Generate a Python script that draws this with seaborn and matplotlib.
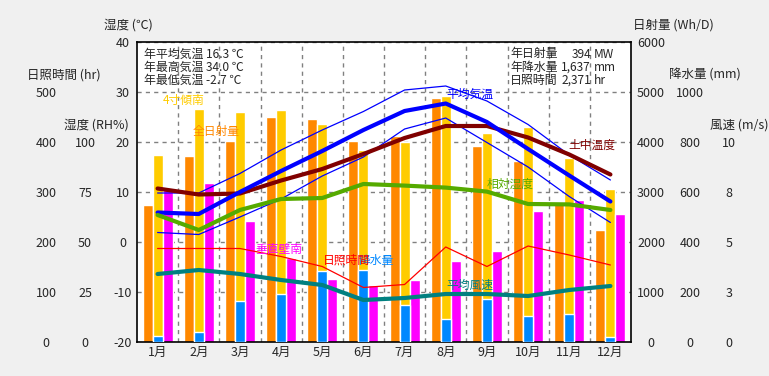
import numpy as np
import pandas as pd
import matplotlib
matplotlib.use("Agg")
import matplotlib.pyplot as plt
import seaborn as sns

sns.set_style("white")
plt.rcParams['font.family'] = ['Noto Sans CJK JP', 'DejaVu Sans']

months = [f"{i}月" for i in range(1, 13)]

# 日射量 (Wh/D)
solarAll = [2750, 3720, 4030, 4510, 4460, 4020, 4120, 4890, 3920, 3630, 2810, 2240]
solarTilt = [3740, 4660, 4610, 4640, 4360, 3850, 4010, 4930, 4190, 4310, 3690, 3060]
solarWall = [3070, 3190, 2420, 1690, 1270, 1140, 1240, 1630, 1820, 2620, 2840, 2570]
# 降水量 (mm)
precip = [25, 40, 165, 192, 285, 288, 148, 92, 172, 104, 112, 20]
# 温度 (℃)
tempAvg = [5.9, 5.6, 10.0, 14.2, 18.2, 22.4, 26.2, 27.7, 24.0, 18.6, 13.3, 8.1]
tempMax = [9.8, 9.8, 13.7, 18.4, 22.4, 26.1, 30.4, 31.2, 28.2, 23.5, 17.4, 12.4]
tempMin = [1.9, 1.5, 5.0, 8.6, 13.2, 17.0, 22.6, 24.8, 19.9, 15.0, 9.1, 3.9]
tempSoil = [10.7, 9.5, 9.7, 12.3, 14.6, 17.6, 20.8, 23.2, 23.2, 20.9, 17.5, 13.5]
# 相対湿度 (RH%)
humidity = [63.5, 56, 66, 71.5, 72, 79, 78.2, 77.2, 75.2, 69, 68.8, 66]
# 日照時間 (hr)
sunHours = [187, 187, 187, 171, 151, 109, 115, 190, 151, 192, 174, 154]
# 平均風速 (m/s)
wind = [3.4, 3.6, 3.4, 3.1, 2.85, 2.1, 2.2, 2.4, 2.4, 2.3, 2.6, 2.8]

# tick labels for each column
tempTicks = [-20, -10, 0, 10, 20, 30, 40]
rhTicks = [0, 25, 50, 75, 100]
sunTicks = [0, 100, 200, 300, 400, 500]
solarTicks = [0, 1000, 2000, 3000, 4000, 5000, 6000]
precipTicks = [0, 200, 400, 600, 800, 1000]
windTicks = [0, 2.5, 5, 7.5, 10]
windLabels = ["0", "3", "5", "8", "10"]

W, H = 769, 376
def px(x, y):
    return x / W, 1 - y / H

fig = plt.figure(figsize=(W / 100, H / 100), dpi=100, facecolor='#f0f0f0')
rect = [137 / W, (H - 342) / H, 494 / W, 300 / H]

# solar bars (bottom layer, holds grid + border)
axSol = fig.add_axes(rect)
axSol.set_facecolor('white')
axSol.set_axisbelow(True)
solar = pd.DataFrame({
    'month': months * 3,
    'series': ['全日射量'] * 12 + ['4寸傾南'] * 12 + ['垂直壁南'] * 12,
    'value': solarAll + solarTilt + solarWall,
})
palette = {'全日射量': '#ff8800', '4寸傾南': '#ffcc00', '垂直壁南': '#ff00ff'}
sns.barplot(data=solar, x='month', y='value', hue='series', palette=palette,
            hue_order=['全日射量', '4寸傾南', '垂直壁南'], width=0.73, gap=0,
            saturation=1, legend=False, ax=axSol)
axSol.set_xlim(-0.5, 11.5)
axSol.set_ylim(0, 6000)
axSol.set_xlabel('')
axSol.set_ylabel('')
axSol.set_xticks(range(12), months)
axSol.set_xticks(np.arange(0.5, 11.5, 1), minor=True)
axSol.grid(axis='y', which='major', color='#808080', linestyle=(0, (3, 3)), lw=1)
axSol.grid(axis='x', which='minor', color='#808080', linestyle=(0, (3, 3)), lw=1)
axSol.tick_params(axis='x', which='both', length=0, pad=3, labelsize=9)
for s in axSol.spines.values():
    s.set_color('black')
    s.set_linewidth(1.2)

# precipitation bars over the 4寸傾南 position
axPre = axSol.twinx()
sns.barplot(x=months, y=precip, color='#0088ff', width=0.243, saturation=1, ax=axPre)
axPre.set_ylim(0, 1200)
axPre.set_yticks(precipTicks, [str(v) for v in precipTicks])
axPre.tick_params(axis='y', length=0, pad=42.5, labelsize=9)

# temperature lines
axT = axSol.twinx()
x = np.arange(12)
sns.lineplot(x=x, y=tempMax, color='#0000ff', lw=0.9, ax=axT)
sns.lineplot(x=x, y=tempMin, color='#0000ff', lw=0.9, ax=axT)
sns.lineplot(x=x, y=tempSoil, color='#800000', lw=3, ax=axT)
sns.lineplot(x=x, y=tempAvg, color='#0000ff', lw=3, ax=axT)
axT.set_ylim(-20, 40)
axT.yaxis.tick_left()
axT.set_yticks(tempTicks, [str(v) for v in tempTicks])
axT.tick_params(axis='y', length=0, pad=10.1, labelsize=9)

axRh = axSol.twinx()
sns.lineplot(x=x, y=humidity, color='#55aa00', lw=3, ax=axRh)
axRh.set_ylim(0, 150)
axRh.yaxis.tick_left()
axRh.set_yticks(rhTicks, [str(v) for v in rhTicks])
axRh.tick_params(axis='y', length=0, pad=37.4, labelsize=9)

axSun = axSol.twinx()
sns.lineplot(x=x, y=sunHours, color='#ff0000', lw=0.9, ax=axSun)
axSun.set_ylim(0, 600)
axSun.yaxis.tick_left()
axSun.set_yticks(sunTicks, [str(v) for v in sunTicks])
axSun.tick_params(axis='y', length=0, pad=65.5, labelsize=9)

axWind = axSol.twinx()
sns.lineplot(x=x, y=wind, color='#008080', lw=3, ax=axWind)
axWind.set_ylim(0, 15)
axWind.set_yticks(windTicks, windLabels)
axWind.tick_params(axis='y', length=0, pad=70.6, labelsize=9)

# solar ticks on the right (twinx moves the parent's ticks left, so set them last)
axSol.yaxis.tick_right()
axSol.set_yticks(solarTicks, [str(v) for v in solarTicks])
axSol.tick_params(axis='y', length=0, pad=14.4, labelsize=9,
                  left=False, labelleft=False, right=False, labelright=True)

for a in [axPre, axT, axRh, axSun, axWind]:
    a.set_xlim(-0.5, 11.5)
    a.set_xlabel('')
    a.set_ylabel('')
    for s in a.spines.values():
        s.set_visible(False)
for a in [axSol, axPre, axT, axRh, axSun, axWind]:
    plt.setp(a.get_yticklabels(), ha='center')

# axis titles
titles = [
    ("湿度 (℃)", 128, 25), ("日照時間 (hr)", 64, 75), ("湿度 (RH%)", 96, 125),
    ("日射量 (Wh/D)", 673, 25), ("降水量 (mm)", 705, 75), ("風速 (m/s)", 739, 125),
]
for txt, tx, ty in titles:
    fig.text(*px(tx, ty), txt, ha='center', va='center', fontsize=9)

# summary text
for i, txt in enumerate(["年平均気温 16.3 ℃", "年最高気温 34.0 ℃", "年最低気温 -2.7 ℃"]):
    fig.text(*px(144, 54 + 13.3 * i), txt, ha='left', va='center', fontsize=8.6)
for i, (lab, num, unit) in enumerate([("年日射量", "394", "MW"),
                                      ("年降水量", "1,637", "mm"),
                                      ("日照時間", "2,371", "hr")]):
    fig.text(*px(510, 54 + 13.3 * i), lab, ha='left', va='center', fontsize=8.6)
    fig.text(*px(591, 54 + 13.3 * i), num, ha='right', va='center', fontsize=8.6)
    fig.text(*px(594, 54 + 13.3 * i), unit, ha='left', va='center', fontsize=8.6)

# series labels in the plot
labels = [
    ("4寸傾南", '#ffcc00', 184, 100), ("全日射量", '#ff8800', 216, 132),
    ("平均気温", '#0000ff', 470, 94), ("土中温度", '#800000', 592, 145),
    ("相対湿度", '#55aa00', 510, 184), ("垂直壁南", '#ff00ff', 279, 249),
    ("降水量", '#0088ff', 376, 260), ("日照時間", '#ff0000', 346, 260),
    ("平均風速", '#008080', 470, 285),
]
for txt, col, tx, ty in labels:
    fig.text(*px(tx, ty), txt, color=col, ha='center', va='center', fontsize=8.5)

fig.savefig("out.png", dpi=100, facecolor=fig.get_facecolor())
